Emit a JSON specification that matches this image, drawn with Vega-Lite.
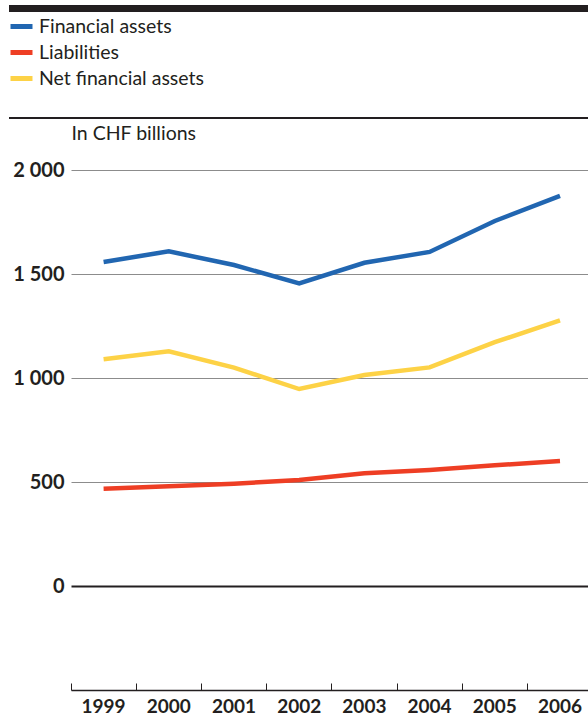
{
  "$schema": "https://vega.github.io/schema/vega-lite/v6.json",
  "autosize": "none",
  "width": 579,
  "height": 520,
  "padding": {"left": 9, "top": 170, "right": 0, "bottom": 26},
  "background": "white",
  "config": {"view": {"stroke": null}, "font": "Lato"},
  "data": {"values": [
    {"year": "1999", "series": "Financial assets", "value": 1558},
    {"year": "2000", "series": "Financial assets", "value": 1609},
    {"year": "2001", "series": "Financial assets", "value": 1543},
    {"year": "2002", "series": "Financial assets", "value": 1455},
    {"year": "2003", "series": "Financial assets", "value": 1554},
    {"year": "2004", "series": "Financial assets", "value": 1606},
    {"year": "2005", "series": "Financial assets", "value": 1755},
    {"year": "2006", "series": "Financial assets", "value": 1876},
    {"year": "1999", "series": "Liabilities", "value": 468},
    {"year": "2000", "series": "Liabilities", "value": 479},
    {"year": "2001", "series": "Liabilities", "value": 492},
    {"year": "2002", "series": "Liabilities", "value": 510},
    {"year": "2003", "series": "Liabilities", "value": 542},
    {"year": "2004", "series": "Liabilities", "value": 558},
    {"year": "2005", "series": "Liabilities", "value": 580},
    {"year": "2006", "series": "Liabilities", "value": 601},
    {"year": "1999", "series": "Net financial assets", "value": 1090},
    {"year": "2000", "series": "Net financial assets", "value": 1128},
    {"year": "2001", "series": "Net financial assets", "value": 1050},
    {"year": "2002", "series": "Net financial assets", "value": 947},
    {"year": "2003", "series": "Net financial assets", "value": 1014},
    {"year": "2004", "series": "Net financial assets", "value": 1051},
    {"year": "2005", "series": "Net financial assets", "value": 1172},
    {"year": "2006", "series": "Net financial assets", "value": 1277}
  ]},
  "layer": [
    {
      "mark": {"type": "line", "strokeWidth": 4.5, "clip": false},
      "encoding": {
        "x": {
          "field": "year", "type": "ordinal",
          "scale": {"type": "band", "range": [62, 583.6], "paddingInner": 0, "paddingOuter": 0},
          "axis": {
            "orient": "bottom", "title": null, "grid": false,
            "bandPosition": 0,
            "domainColor": "#231f20", "domainWidth": 1.5,
            "tickColor": "#231f20", "tickWidth": 1, "tickSize": -7,
            "labelPadding": 14, "labelAngle": 0, "labelAlign": "center", "labelBaseline": "top",
            "labelFont": "Lato", "labelFontWeight": "bold", "labelFontSize": 19, "labelColor": "#231f20"
          }
        },
        "y": {
          "field": "value", "type": "quantitative",
          "scale": {"domain": [-500, 2000], "nice": false, "zero": false},
          "axis": {
            "values": [0, 500, 1000, 1500, 2000],
            "offset": -62, "domain": false, "ticks": false, "labelPadding": 7,
            "labelFont": "Lato", "labelFontWeight": "bold", "labelFontSize": 20, "labelColor": "#231f20",
            "labelExpr": "replace(format(datum.value, ','), ',', ' ')",
            "labelFlush": false, "labelOverlap": false,
            "grid": true,
            "gridColor": {"condition": {"test": "datum.value === 0", "value": "#231f20"}, "value": "#8c8c8c"},
            "gridWidth": {"condition": {"test": "datum.value === 0", "value": 2}, "value": 1.2},
            "title": "In CHF billions", "titleAngle": 0, "titleX": 0, "titleY": -37,
            "titleAlign": "left", "titleBaseline": "middle", "titleFont": "Lato",
            "titleFontWeight": "normal", "titleFontSize": 19.5, "titleColor": "#231f20"
          }
        },
        "color": {
          "field": "series", "type": "nominal",
          "scale": {"domain": ["Financial assets", "Liabilities", "Net financial assets"], "range": ["#2166b1", "#ee3e24", "#fdd246"]},
          "legend": {
            "orient": "none", "legendX": -1, "legendY": -157, "title": null,
            "symbolType": "stroke", "symbolSize": 484, "symbolStrokeWidth": 5,
            "labelFont": "Lato", "labelFontSize": 19.5, "labelColor": "#231f20",
            "labelOffset": 4, "rowPadding": 2, "padding": 0, "labelLimit": 300
          }
        }
      }
    },
    {
      "mark": {"type": "rule", "color": "#231f20", "strokeWidth": 6, "clip": false},
      "encoding": {"y": {"datum": 2775, "type": "quantitative"}}
    },
    {
      "mark": {"type": "rule", "color": "#231f20", "strokeWidth": 1.2, "clip": false},
      "encoding": {"y": {"datum": 2250, "type": "quantitative"}}
    }
  ]
}
